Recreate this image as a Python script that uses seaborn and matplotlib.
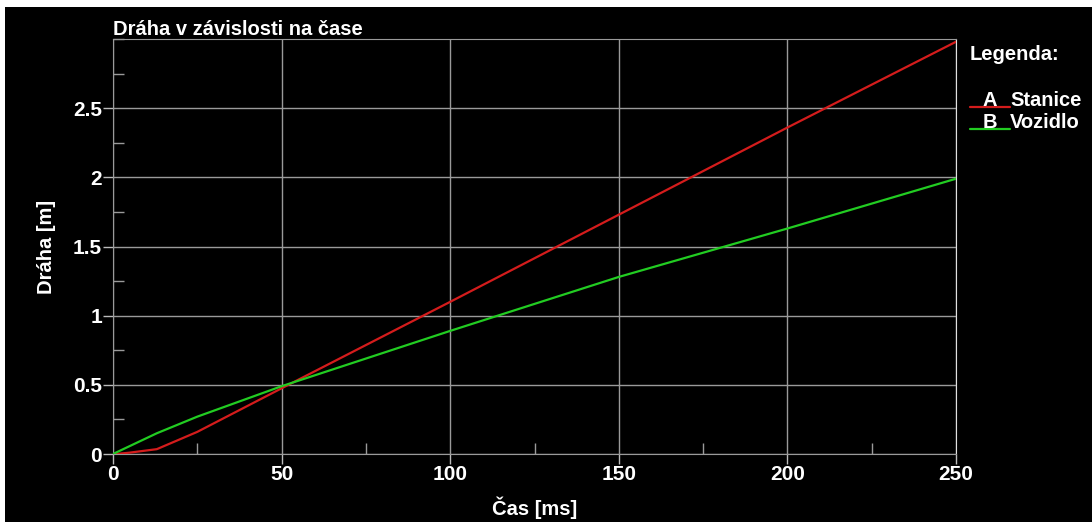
import numpy as np
import pandas as pd
import matplotlib
matplotlib.use('Agg')
import matplotlib.pyplot as plt
from matplotlib.lines import Line2D
from matplotlib.patches import Rectangle
from matplotlib.ticker import MultipleLocator
import seaborn as sns

# data
cas_a = [1, 5, 13, 25, 50, 100, 150, 200, 250]
draha_a = [0.0, 0.01, 0.035, 0.16, 0.475, 1.10, 1.73, 2.36, 2.98]
cas_b = [0, 13, 25, 50, 100, 150, 200, 250]
draha_b = [0.0, 0.15, 0.27, 0.49, 0.89, 1.28, 1.63, 1.99]
serie_names = ["Stanice", "Vozidlo"]
serie_letters = ["A", "B"]
colors = ["#d41c1c", "#22cc22"]

df = pd.concat([
    pd.DataFrame({"cas": cas_a, "draha": draha_a, "serie": serie_names[0]}),
    pd.DataFrame({"cas": cas_b, "draha": draha_b, "serie": serie_names[1]}),
])

sns.set_style("dark")
plt.rcParams['font.family'] = ['Liberation Sans', 'DejaVu Sans']
plt.rcParams['font.weight'] = 'bold'

W, H = 1092, 522
fs = 14.5
fig = plt.figure(figsize=(W / 100, H / 100), dpi=100, facecolor='black')
ax = fig.add_axes([113 / W, 1 - 454 / H, (956 - 113) / W, (454 - 39) / H])
ax.set_facecolor('black')

sns.lineplot(data=df, x="cas", y="draha", hue="serie",
             palette=dict(zip(serie_names, colors)), lw=1.6,
             legend=False, ax=ax, zorder=3, sort=False)

ax.set_xlim(0, 250)
ax.set_ylim(0, 3.0)
ax.xaxis.set_major_locator(MultipleLocator(50))
ax.xaxis.set_minor_locator(MultipleLocator(25))
ax.yaxis.set_minor_locator(MultipleLocator(0.25))
ax.set_yticks([0, 0.5, 1, 1.5, 2, 2.5])
ax.set_yticklabels(["0", "0.5", "1", "1.5", "2", "2.5"])
ax.grid(True, which='major', color='#9a9a9a', lw=1)
ax.grid(False, which='minor')
ax.tick_params(which='both', bottom=True, left=True)
ax.tick_params(which='major', direction='out', length=7, width=1,
               color='#bbbbbb', labelcolor='white', labelsize=15, pad=1)
ax.tick_params(which='minor', direction='in', length=8, width=1,
               color='#9a9a9a')
for lbl in ax.get_xticklabels() + ax.get_yticklabels():
    lbl.set_fontweight('bold')
for side in ['left', 'top', 'bottom']:
    ax.spines[side].set_color('#9a9a9a')
ax.spines['right'].set_color('#e0e0e0')

ax.set_xlabel("Čas [ms]", color='white', fontsize=fs, fontweight='bold', labelpad=9)
ax.set_ylabel("Dráha [m]", color='white', fontsize=fs, fontweight='bold', labelpad=12)
ax.set_title("Dráha v závislosti na čase", color='white', fontsize=fs,
             fontweight='bold', loc='left', pad=3)

# legend drawn by hand: line under the letter
fig.text(970 / W, 1 - 55 / H, "Legenda:", color='white', fontsize=fs,
         fontweight='bold', va='center')
for i, (letter, name, col) in enumerate(zip(serie_letters, serie_names, colors)):
    yc = 100 + 22 * i
    fig.text(990 / W, 1 - yc / H, letter, color='white', fontsize=fs,
             fontweight='bold', va='center', ha='center')
    fig.text(1010 / W, 1 - yc / H, name, color='white', fontsize=fs,
             fontweight='bold', va='center')
    fig.lines.append(Line2D([970 / W, 1010 / W], [1 - (yc + 6.5) / H] * 2,
                            transform=fig.transFigure, color=col, lw=1.6))

# white border strips of the original screenshot
fig.patches.append(Rectangle((0, 1 - 7 / H), 1, 7 / H, transform=fig.transFigure,
                             facecolor='white', edgecolor='none'))
fig.patches.append(Rectangle((0, 0), 5 / W, 1, transform=fig.transFigure,
                             facecolor='white', edgecolor='none'))

fig.savefig("out.png", dpi=100, facecolor='black')
